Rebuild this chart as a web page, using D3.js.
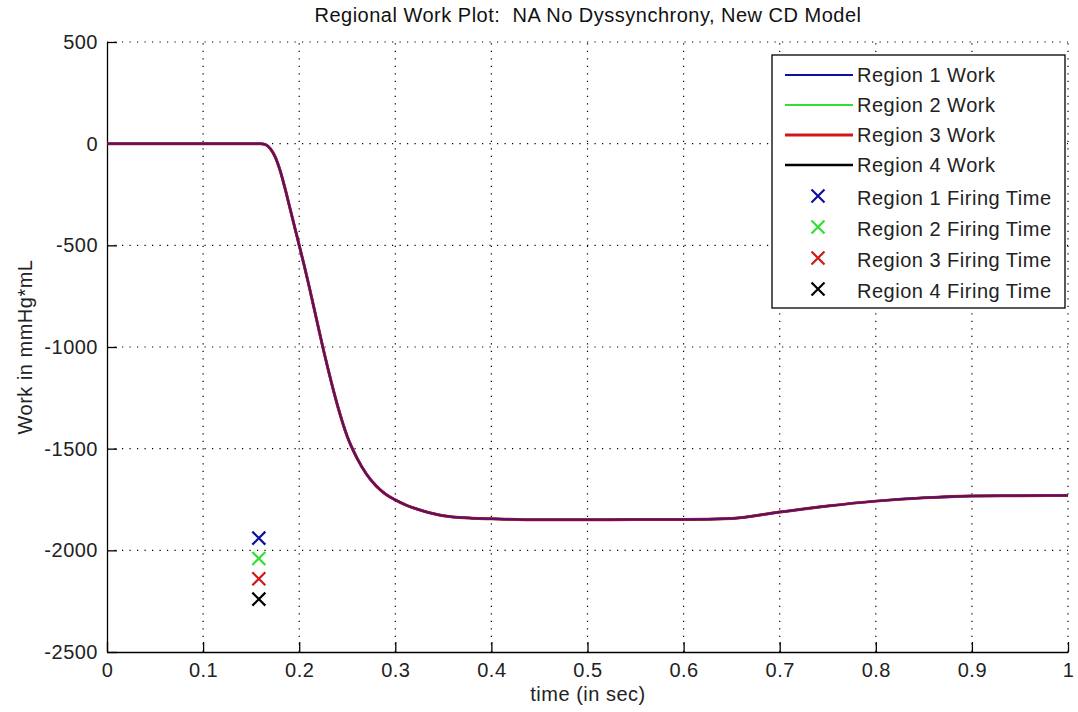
<!DOCTYPE html>
<html><head><meta charset="utf-8">
<script src="https://cdn.jsdelivr.net/npm/d3@7"></script>
<style>body{margin:0;background:#fff}svg{display:block}text{font-family:"Liberation Sans",Arial,sans-serif;letter-spacing:0.5px}</style>
</head><body><svg id="c" width="1078" height="712"></svg>
<script>
const time = [0,0.05,0.1,0.15,0.16,0.165,0.17,0.175,0.18,0.185,0.19,0.195,0.2,0.205,0.21,0.215,0.22,0.225,0.23,0.24,0.25,0.26,0.27,0.28,0.29,0.3,0.31,0.32,0.33,0.34,0.35,0.36,0.38,0.4,0.45,0.5,0.55,0.6,0.65,0.7,0.75,0.8,0.85,0.9,0.95,1.0];
const work = [0,0,0,0,0,-5,-25,-65,-130,-215,-310,-405,-500,-595,-695,-800,-905,-1010,-1108,-1290,-1440,-1545,-1625,-1683,-1724,-1752,-1775,-1793,-1808,-1820,-1830,-1836,-1842,-1845,-1850,-1850,-1848,-1848,-1843,-1812,-1782,-1758,-1742,-1733,-1731,-1730];
const regions = ["Region 1","Region 2","Region 3","Region 4"];
const colors = ["#1010a0","#30e030","#d01818","#000000"];
const firingTime = [0.158,0.158,0.158,0.158];
const firingWork = [-1940,-2040,-2140,-2240];
const xTicks = [0,0.1,0.2,0.3,0.4,0.5,0.6,0.7,0.8,0.9,1];
const yTicks = [500,0,-500,-1000,-1500,-2000,-2500];

const svg = d3.select("#c");
const L=107,R=1068,T=42,B=652;
const FS=20;
const x = d3.scaleLinear().domain([0,1]).range([L,R]);
const y = d3.scaleLinear().domain([-2500,500]).range([B,T]);

// grid
const g = svg.append("g").attr("stroke","#000").attr("stroke-width",1.2).attr("stroke-dasharray","1.2,6.3");
g.selectAll(".vx").data(xTicks.slice(1)).join("line").attr("x1",d=>x(d)).attr("x2",d=>x(d)).attr("y1",B).attr("y2",T);
g.selectAll(".hy").data(yTicks.slice(0,-1)).join("line").attr("y1",d=>y(d)).attr("y2",d=>y(d)).attr("x1",L).attr("x2",R);

// axes
const xa = svg.append("g").attr("transform",`translate(0,${B})`).call(d3.axisBottom(x).tickValues(xTicks).tickFormat(d=>String(d)).tickSizeInner(-10).tickSizeOuter(0).tickPadding(11));
const ya = svg.append("g").attr("transform",`translate(${L},0)`).call(d3.axisLeft(y).tickValues(yTicks).tickFormat(d=>String(d)).tickSizeInner(-10).tickSizeOuter(0).tickPadding(9));
[xa,ya].forEach(a=>{a.select(".domain").attr("stroke","#000").attr("stroke-width",1.3);
  a.selectAll(".tick line").attr("stroke","#000").attr("stroke-width",1.3);
  a.selectAll(".tick text").attr("font-size",FS).attr("fill","#222").attr("font-family","Liberation Sans, Arial, sans-serif");});

// lines
const line = d3.line().x((d,i)=>x(time[i])).y(d=>y(d)).curve(d3.curveMonotoneX);
const widths=[2,2,3,2.5];
const order=[3,1,2,0];
order.forEach(i=>{
  svg.append("path").datum(work).attr("d",line).attr("fill","none")
   .attr("stroke",colors[i]).attr("stroke-width",widths[i]).attr("stroke-opacity",i===0?0.65:1);
});

// markers
function cross(sel,cx,cy,c,s){
  sel.append("path").attr("d",`M${cx-s},${cy-s}L${cx+s},${cy+s}M${cx-s},${cy+s}L${cx+s},${cy-s}`)
   .attr("stroke",c).attr("stroke-width",2.2).attr("fill","none");
}
regions.forEach((r,i)=>cross(svg,x(firingTime[i]),y(firingWork[i]),colors[i],6.5));

// title & labels
svg.append("text").attr("x",588).attr("y",22).attr("text-anchor","middle").attr("font-size",FS).attr("fill","#111")
  .style("white-space","pre").text("Regional Work Plot:  NA No Dyssynchrony, New CD Model");
svg.append("text").attr("x",588).attr("y",701).attr("text-anchor","middle").attr("font-size",FS).attr("fill","#222").text("time (in sec)");
svg.append("text").attr("transform","translate(32,347) rotate(-90)").attr("text-anchor","middle").attr("font-size",FS).attr("fill","#222").text("Work in mmHg*mL");

// legend
const lg = svg.append("g");
lg.append("rect").attr("x",772).attr("y",55).attr("width",293).attr("height",253).attr("fill","#fff").attr("stroke","#000").attr("stroke-width",1.3);
const rowY = [75,105,135,165,198,229,260,291];
regions.forEach((r,i)=>{
  lg.append("line").attr("x1",785).attr("x2",853).attr("y1",rowY[i]).attr("y2",rowY[i]).attr("stroke",colors[i]).attr("stroke-width",widths[i]);
  lg.append("text").attr("x",857).attr("y",rowY[i]+7).attr("font-size",FS).attr("fill","#222").text(r+" Work");
});
regions.forEach((r,i)=>{
  cross(lg,818,rowY[4+i]-2,colors[i],6.5);
  lg.append("text").attr("x",857).attr("y",rowY[4+i]+7).attr("font-size",FS).attr("fill","#222").text(r+" Firing Time");
});
</script></body></html>
